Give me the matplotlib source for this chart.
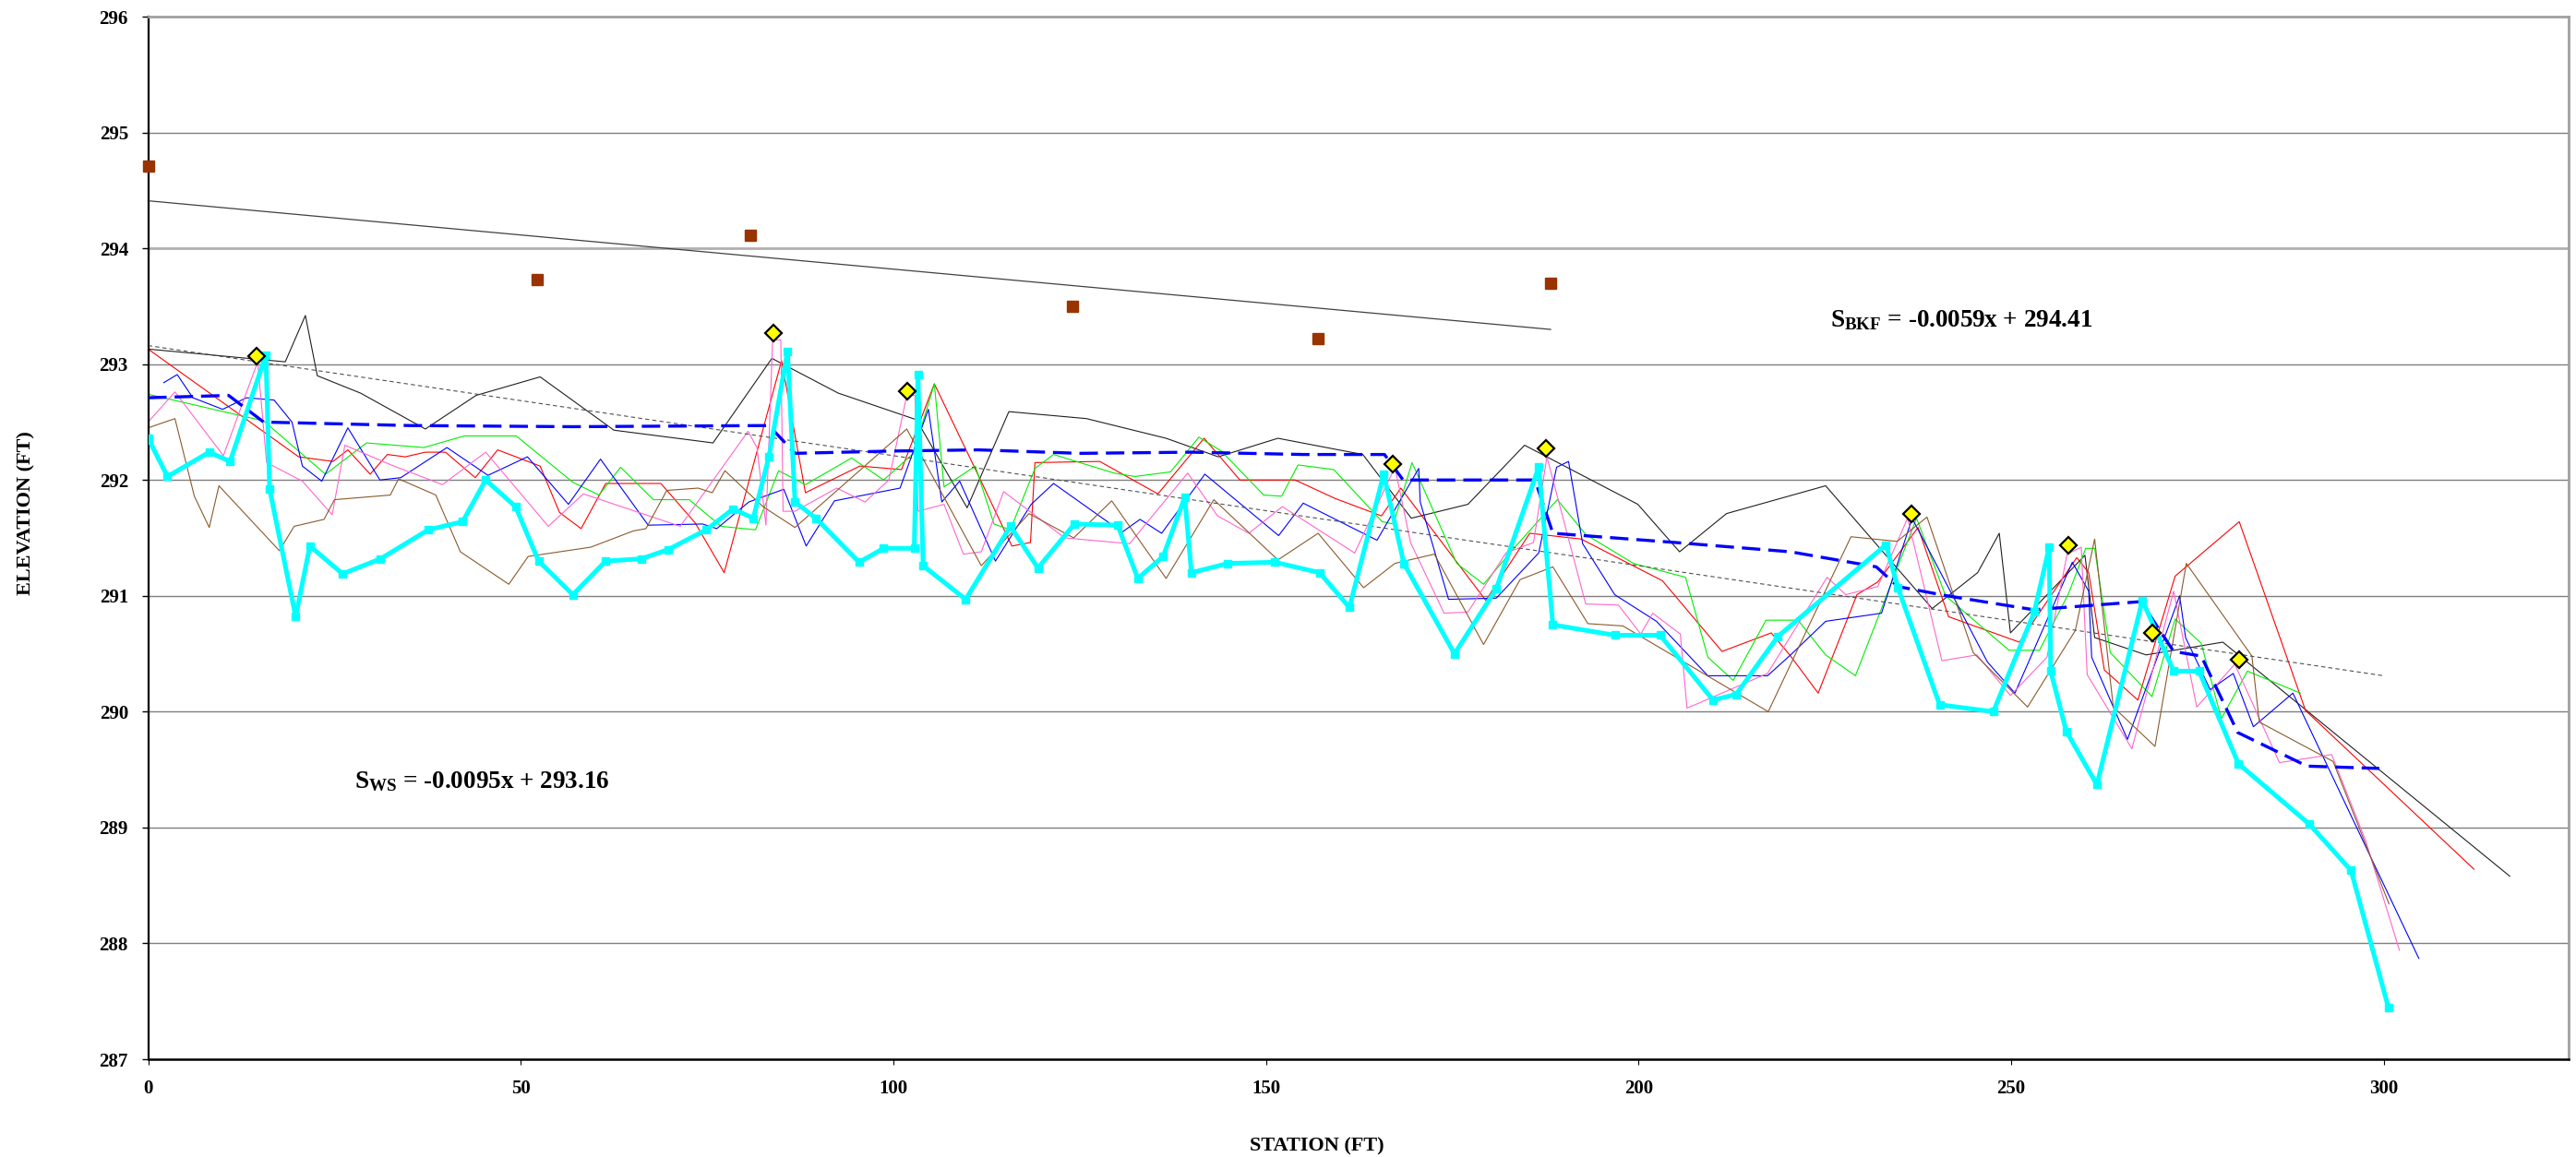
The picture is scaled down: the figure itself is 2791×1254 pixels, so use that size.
import numpy as np
import matplotlib
matplotlib.use("Agg")
import matplotlib.pyplot as plt

plt.rcParams['font.family'] = ['Liberation Serif', 'DejaVu Serif']
plt.rcParams['font.weight'] = 'bold'
plt.rcParams['mathtext.fontset'] = 'custom'
plt.rcParams['mathtext.rm'] = 'Liberation Serif:bold'
plt.rcParams['mathtext.bf'] = 'Liberation Serif:bold'
plt.rcParams['mathtext.it'] = 'Liberation Serif:bold'

# ---------------- data ----------------
cyan_x = [0, 2.6, 8.2, 11.0, 15.8, 16.3, 19.8, 21.7, 26.1, 31.2, 37.6, 42.2, 45.3, 49.3, 52.4, 57.0,
          61.4, 66.2, 69.8, 74.9, 78.5, 81.2, 83.3, 85.8, 86.8, 89.6, 95.4, 98.7, 102.8, 103.3, 104.0,
          109.7, 115.7, 119.4, 124.3, 130.1, 132.8, 136.2, 139.1, 140.0, 144.9, 151.2, 157.2, 161.2,
          165.8, 168.5, 175.3, 180.9, 186.6, 188.5, 196.8, 202.9, 210.0, 213.1, 218.7, 233.2, 234.8,
          240.4, 247.6, 253.1, 255.1, 255.3, 257.4, 261.5, 267.6, 271.8, 275.2, 280.5, 290.0, 295.6, 300.6]
cyan_y = [292.36, 292.03, 292.24, 292.16, 293.08, 291.92, 290.82, 291.43, 291.19, 291.32, 291.57, 291.64,
          292.00, 291.77, 291.30, 291.01, 291.30, 291.32, 291.40, 291.57, 291.75, 291.67, 292.20, 293.11,
          291.81, 291.67, 291.29, 291.41, 291.41, 292.91, 291.26, 290.97, 291.60, 291.24, 291.62, 291.61,
          291.15, 291.34, 291.85, 291.20, 291.28, 291.29, 291.20, 290.90, 292.05, 291.28, 290.50, 291.06,
          292.11, 290.75, 290.66, 290.66, 290.10, 290.15, 290.65, 291.44, 291.07, 290.06, 290.00, 290.86,
          291.42, 290.35, 289.83, 289.37, 290.96, 290.35, 290.35, 289.55, 289.03, 288.63, 287.45]

dash_x = [0, 10.8, 15.5, 35, 57, 83.3, 86.8, 100, 111.4, 125, 140, 155, 165.9, 168.4, 186.1, 188.5,
          205, 220.4, 231.9, 234.8, 241.4, 253, 267.4, 271.8, 275.5, 280.4, 289.7, 299.4]
dash_y = [292.71, 292.73, 292.50, 292.47, 292.46, 292.47, 292.23, 292.25, 292.26, 292.23, 292.24, 292.22,
          292.22, 292.00, 292.00, 291.54, 291.46, 291.38, 291.25, 291.08, 291.00, 290.88, 290.95, 290.52,
          290.48, 289.82, 289.53, 289.51]

black_x = [0, 18.4, 21.1, 22.7, 28.5, 37.2, 44.0, 52.6, 62.5, 75.8, 83.7, 92.6, 103.1, 109.9, 115.5,
           125.9, 136.6, 143.6, 151.6, 163.0, 169.5, 177.1, 184.7, 199.9, 205.5, 211.8, 225.1, 239.4,
           245.5, 248.4, 249.9, 259.9, 261.2, 268.1, 278.4, 316.9]
black_y = [293.13, 293.02, 293.42, 292.90, 292.75, 292.44, 292.73, 292.89, 292.43, 292.32, 293.05, 292.75,
           292.52, 291.76, 292.59, 292.53, 292.36, 292.20, 292.36, 292.22, 291.67, 291.79, 292.30, 291.79,
           291.38, 291.71, 291.95, 290.89, 291.20, 291.54, 290.68, 291.35, 290.64, 290.49, 290.60, 288.58]

red_x = [0, 20.2, 24.8, 26.8, 29.8, 32.1, 34.5, 37.2, 39.9, 43.9, 46.9, 52.6, 55.2, 58.1, 61.4, 68.8,
         73.4, 77.3, 85.0, 88.2, 95.5, 101.1, 105.5, 111.4, 115.9, 118.4, 119.0, 127.7, 135.5, 141.7,
         146.5, 153.9, 159.3, 165.5, 168.1, 179.5, 185.4, 192.3, 203.2, 211.2, 217.8, 220.4, 224.1,
         229.3, 232.1, 237.5, 241.6, 251.1, 258.8, 260.4, 262.5, 267.0, 272.0, 280.6, 289.5, 312.1]
red_y = [293.13, 292.20, 292.16, 292.26, 292.05, 292.22, 292.20, 292.24, 292.24, 292.02, 292.26, 292.12,
         291.72, 291.58, 291.97, 291.97, 291.63, 291.20, 293.03, 291.89, 292.12, 292.09, 292.83, 292.04,
         291.43, 291.46, 292.15, 292.16, 291.88, 292.36, 292.00, 292.00, 291.84, 291.69, 291.93, 290.96,
         291.54, 291.49, 291.13, 290.52, 290.68, 290.48, 290.16, 291.01, 291.12, 291.59, 290.82, 290.60,
         291.33, 291.20, 290.36, 290.10, 291.17, 291.64, 290.01, 288.64]

green_x = [0, 15.5, 23.8, 29.3, 37.0, 42.4, 49.4, 57.0, 60.5, 63.4, 67.8, 72.6, 76.9, 81.5, 84.6, 88.2,
           94.4, 98.7, 102.7, 105.5, 106.8, 111.0, 113.5, 115.7, 119.0, 121.5, 129.6, 132.4, 137.2,
           141.0, 144.0, 149.7, 152.1, 154.3, 159.1, 165.6, 167.1, 169.6, 175.6, 179.2, 183.4, 189.1,
           192.9, 199.3, 206.3, 209.3, 212.7, 217.1, 221.4, 225.1, 229.1, 237.3, 241.2, 249.7, 253.8,
           257.7, 260.0, 261.2, 263.3, 268.9, 272.0, 275.5, 278.2, 281.7, 288.8]
green_y = [292.74, 292.51, 292.05, 292.32, 292.28, 292.38, 292.38, 291.98, 291.87, 292.11, 291.83, 291.83,
           291.60, 291.57, 292.08, 291.96, 292.19, 292.00, 292.23, 292.83, 291.94, 292.12, 291.62, 291.57,
           292.10, 292.22, 292.06, 292.03, 292.07, 292.37, 292.25, 291.87, 291.86, 292.13, 292.09, 291.64,
           291.62, 292.15, 291.28, 291.10, 291.42, 291.83, 291.53, 291.28, 291.16, 290.47, 290.27, 290.79,
           290.79, 290.49, 290.31, 291.67, 291.00, 290.53, 290.53, 291.02, 291.41, 291.41, 290.51, 290.13,
           290.80, 290.59, 289.94, 290.35, 290.16]

blue_x = [2.1, 3.9, 6.0, 10.0, 13.2, 16.9, 19.3, 20.7, 23.3, 26.8, 31.1, 33.9, 40.1, 45.6, 50.9, 56.4,
          60.7, 67.1, 74.4, 76.3, 80.6, 85.3, 88.3, 92.1, 100.9, 104.7, 106.5, 108.9, 113.7, 118.5,
          121.5, 130.7, 133.1, 136.0, 141.8, 151.7, 155.0, 164.9, 170.5, 170.7, 174.5, 180.9, 186.6,
          189.0, 190.6, 192.5, 196.8, 202.4, 209.3, 217.3, 220.4, 225.1, 232.6, 236.7, 246.8, 250.5,
          258.2, 260.4, 260.8, 265.6, 272.6, 273.4, 276.7, 279.8, 282.5, 287.8, 304.7]
blue_y = [292.84, 292.91, 292.71, 292.61, 292.71, 292.69, 292.50, 292.12, 291.99, 292.45, 292.00, 292.02,
          292.28, 292.04, 292.20, 291.79, 292.18, 291.61, 291.62, 291.58, 291.81, 291.92, 291.43, 291.82,
          291.93, 292.61, 291.81, 291.99, 291.30, 291.79, 291.97, 291.55, 291.66, 291.54, 292.05, 291.52,
          291.80, 291.48, 292.10, 291.81, 290.97, 290.98, 291.37, 292.11, 292.16, 291.45, 291.01, 290.78,
          290.31, 290.31, 290.49, 290.78, 290.85, 291.67, 290.43, 290.16, 291.29, 291.04, 290.47, 289.76,
          291.00, 290.64, 290.19, 290.33, 289.87, 290.16, 287.87]

pink_x = [0, 3.6, 10.1, 14.7, 15.9, 20.7, 24.7, 26.4, 32.6, 39.5, 45.3, 53.7, 58.4, 71.4, 80.5, 81.7,
          82.9, 83.8, 84.9, 85.2, 86.8, 92.4, 96.2, 99.4, 101.8, 102.9, 103.3, 106.8, 109.4, 111.8,
          114.8, 123.0, 131.7, 139.5, 143.5, 147.7, 152.2, 161.9, 167.3, 169.4, 173.9, 177.1, 182.2,
          185.9, 187.7, 192.9, 197.3, 200.3, 201.9, 205.6, 206.5, 217.3, 225.3, 227.8, 232.1, 236.1,
          240.7, 245.4, 249.9, 254.8, 257.5, 259.4, 260.2, 266.2, 271.8, 274.9, 280.0, 286.0, 293.0,
          297.6, 302.1]
pink_y = [292.50, 292.76, 292.21, 293.02, 292.15, 291.99, 291.70, 292.30, 292.13, 291.96, 292.24, 291.60,
          291.88, 291.60, 292.42, 292.28, 291.61, 293.21, 293.21, 291.73, 291.73, 291.93, 291.81, 292.00,
          292.73, 292.73, 291.73, 291.79, 291.36, 291.38, 291.90, 291.50, 291.45, 292.06, 291.69, 291.54,
          291.77, 291.37, 292.11, 291.46, 290.85, 290.86, 291.37, 291.46, 292.20, 290.93, 290.92, 290.67,
          290.85, 290.67, 290.03, 290.33, 291.16, 291.01, 291.08, 291.67, 290.44, 290.49, 290.14, 290.47,
          291.36, 291.42, 290.32, 289.68, 291.04, 290.04, 290.41, 289.56, 289.63, 288.88, 287.94]

brown_x = [0, 3.6, 6.2, 8.2, 9.5, 17.6, 19.6, 23.6, 25.0, 32.5, 33.6, 38.6, 41.9, 48.4, 51.0, 55.2,
           59.4, 65.1, 66.8, 69.6, 73.8, 75.7, 77.4, 82.5, 86.8, 101.8, 111.8, 118.2, 124.2, 129.3,
           136.6, 143.0, 151.6, 157.0, 163.1, 167.3, 172.6, 179.2, 184.1, 188.5, 193.2, 197.9, 217.4,
           228.5, 234.7, 238.7, 244.9, 252.2, 258.6, 261.2, 263.7, 269.3, 273.5, 282.3, 283.3, 293.2, 300.7]
brown_y = [292.45, 292.53, 291.86, 291.59, 291.95, 291.39, 291.60, 291.66, 291.83, 291.87, 292.01, 291.87,
           291.38, 291.10, 291.34, 291.38, 291.42, 291.56, 291.58, 291.91, 291.93, 291.89, 292.08, 291.77,
           291.59, 292.44, 291.26, 291.71, 291.50, 291.82, 291.15, 291.83, 291.31, 291.54, 291.07, 291.28,
           291.36, 290.58, 291.14, 291.25, 290.76, 290.74, 290.00, 291.51, 291.47, 291.68, 290.51, 290.04,
           290.70, 291.49, 290.04, 289.70, 291.28, 290.48, 289.91, 289.57, 288.34]

bkf_x = [0, 52.2, 80.8, 124.0, 157.0, 188.2]
bkf_y = [294.71, 293.73, 294.11, 293.50, 293.22, 293.70]

dia_x = [14.5, 83.9, 101.9, 167.0, 187.6, 236.6, 257.7, 268.9, 280.6]
dia_y = [293.07, 293.27, 292.77, 292.14, 292.27, 291.71, 291.44, 290.68, 290.45]

bkf_slope, bkf_int = -0.0059, 294.41
ws_slope, ws_int = -0.0095, 293.16
bkf_trend_range = [0, 188.2]
ws_trend_range = [0, 300]

yticks = list(range(287, 297))
xticks = [0, 50, 100, 150, 200, 250, 300]

# ---------------- figure ----------------
W, H = 2791, 1254
fig = plt.figure(figsize=(W / 100, H / 100), dpi=100)
L, R, T, B = 160.5, 2783, 18, 1148
ax = fig.add_axes([L / W, 1 - B / H, (R - L) / W, (B - T) / H])
ax.set_xlim(0, 324.8)
ax.set_ylim(287, 296)

ax.set_yticks(yticks)
ax.set_xticks(xticks)
for yv in yticks[1:-1]:
    if yv == 294:
        ax.axhline(yv, color='#b0b0b0', lw=2.0, zorder=0)
    else:
        ax.axhline(yv, color='#7f7f7f', lw=1.0, zorder=0)

for s in ['top', 'right']:
    ax.spines[s].set_color('#a0a0a0')
    ax.spines[s].set_linewidth(2.0)
ax.spines['left'].set_color('black')
ax.spines['left'].set_linewidth(1.6)
ax.spines['bottom'].set_color('black')
ax.spines['bottom'].set_linewidth(1.8)

ax.tick_params(axis='y', direction='out', length=5, width=1, pad=10.5, labelsize=15)
ax.tick_params(axis='x', direction='out', length=4.5, width=0.8, pad=11.5, labelsize=15)
for lab in ax.get_xticklabels() + ax.get_yticklabels():
    lab.set_fontweight('bold')

thin = 0.8
ax.plot(black_x, black_y, color='#202020', lw=thin, zorder=2)
ax.plot(red_x, red_y, color='#ff0000', lw=thin, zorder=2)
ax.plot(green_x, green_y, color='#00ee00', lw=thin, zorder=2)
ax.plot(blue_x, blue_y, color='#0000ff', lw=thin, zorder=2)
ax.plot(pink_x, pink_y, color='#ff66cc', lw=thin, zorder=2)
ax.plot(brown_x, brown_y, color='#8b5a2b', lw=thin, zorder=2)

# trend lines
bx = np.array(bkf_trend_range)
ax.plot(bx, bkf_slope * bx + bkf_int, color='#404040', lw=0.9, zorder=3)
wx = np.array(ws_trend_range)
ax.plot(wx, ws_slope * wx + ws_int, color='#505050', lw=0.8, ls=(0, (4, 3)), zorder=3)

ax.plot(dash_x, dash_y, color='#0000ff', lw=2.4, ls=(0, (6, 2.6)), zorder=4)
ax.plot(cyan_x, cyan_y, color='#00ffff', lw=3.6, marker='s', ms=5.5, zorder=5)

ax.plot(bkf_x, bkf_y, ls='none', marker='s', ms=9, color='#993300', zorder=6, clip_on=False)
ax.plot(dia_x, dia_y, ls='none', marker='D', ms=9, mfc='#ffff00', mec='black', mew=1.6, zorder=7)

ax.text(27.7, 289.34, r'S$_{\rm WS}$ = -0.0095x + 293.16', fontsize=19.5, fontweight='bold',
        ha='left', va='baseline', zorder=8)
ax.text(225.7, 293.32, r'S$_{\rm BKF}$ = -0.0059x + 294.41', fontsize=19.5, fontweight='bold',
        ha='left', va='baseline', zorder=8)

ax.set_ylabel('ELEVATION (FT)', fontsize=16, fontweight='bold')
ax.yaxis.set_label_coords(-0.0467, 0.524)
ax.set_xlabel('STATION (FT)', fontsize=16, fontweight='bold')
ax.xaxis.set_label_coords(0.483, -0.0876)
ax.xaxis.label.set_va('baseline')

fig.savefig('out.png', dpi=100)
